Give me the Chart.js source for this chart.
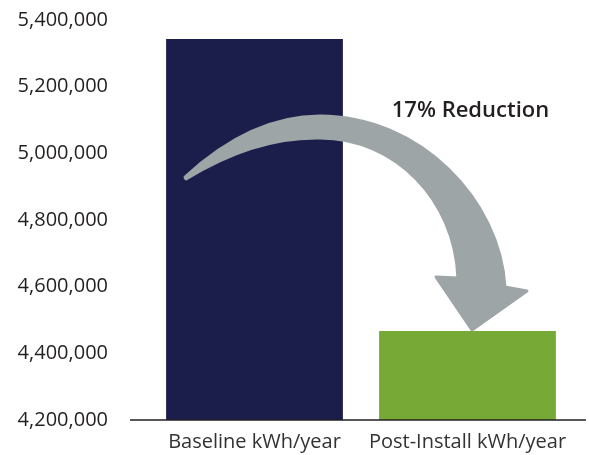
<!DOCTYPE html>
<html>
<head>
<meta charset="utf-8">
<script src="https://cdn.jsdelivr.net/npm/chart.js@4/dist/chart.umd.min.js"></script>
<style>
html,body{margin:0;padding:0;background:#fff;}
#wrap{width:589px;height:455px;position:relative;}
</style>
</head>
<body>
<div id="wrap"><canvas id="c" width="589" height="455"></canvas></div>
<script>
// Data
const categories = ["Baseline kWh/year", "Post-Install kWh/year"];
const energyValues = [5343000, 4467000];
const barColors = ["#1B1E4B", "#76A935"];
const yTicks = [4200000, 4400000, 4600000, 4800000, 5000000, 5200000, 5400000];
const annotationText = "17% Reduction";
// Arrow outline in (category position, value) space: category 0 = first bar, 1 = second bar
const arrowTail = [-0.326, 4929000];
const arrowOuter = [
  [[-0.138, 5040000], [0.073, 5112000], [0.307, 5112000]],
  [[0.777, 5112000], [1.153, 4860000], [1.176, 4599000]]
];
const arrowHead = [[1.279, 4587000], [1.021, 4470000], [0.852, 4629000], [0.955, 4626000]];
const arrowInner = [
  [[0.941, 4860000], [0.660, 5046000], [0.3075, 5046000]],
  [[0.073, 5049000], [-0.1385, 4995000], [-0.3216, 4923000]]
];
const labelPos = [1.014, 5127000];

const arrowPlugin = {
  id: 'arrow',
  afterDatasetsDraw(chart) {
    const ctx = chart.ctx, xs = chart.scales.x, ys = chart.scales.y;
    const x0 = xs.getPixelForValue(0), x1 = xs.getPixelForValue(1);
    const P = (p) => [x0 + (x1 - x0) * p[0], ys.getPixelForValue(p[1])];
    ctx.save();
    // baseline axis line
    const by = ys.getPixelForValue(yTicks[0]);
    ctx.strokeStyle = '#231F20';
    ctx.lineWidth = 1.3;
    ctx.beginPath();
    ctx.moveTo(chart.chartArea.left - 18, by);
    ctx.lineTo(chart.chartArea.right + 12, by);
    ctx.stroke();
    // arrow
    ctx.fillStyle = '#9EA5A6';
    ctx.strokeStyle = '#9EA5A6';
    ctx.lineWidth = 3;
    ctx.lineJoin = 'round';
    ctx.beginPath();
    let t = P(arrowTail);
    ctx.moveTo(t[0], t[1]);
    arrowOuter.forEach(seg => {
      const a = P(seg[0]), b = P(seg[1]), c = P(seg[2]);
      ctx.bezierCurveTo(a[0], a[1], b[0], b[1], c[0], c[1]);
    });
    arrowHead.forEach(p => { const q = P(p); ctx.lineTo(q[0], q[1]); });
    arrowInner.forEach(seg => {
      const a = P(seg[0]), b = P(seg[1]), c = P(seg[2]);
      ctx.bezierCurveTo(a[0], a[1], b[0], b[1], c[0], c[1]);
    });
    ctx.closePath();
    ctx.fill();
    ctx.stroke();
    // label
    const lp = P(labelPos);
    ctx.fillStyle = '#231F20';
    ctx.font = '600 22px "Open Sans"';
    ctx.textAlign = 'center';
    ctx.textBaseline = 'middle';
    ctx.fillText(annotationText, lp[0], lp[1]);
    ctx.restore();
  }
};

new Chart(document.getElementById('c'), {
  type: 'bar',
  data: {
    labels: categories,
    datasets: [{
      data: energyValues,
      backgroundColor: barColors,
      borderWidth: 0,
      barPercentage: 0.83,
      categoryPercentage: 1.0
    }]
  },
  options: {
    responsive: false,
    animation: false,
    devicePixelRatio: 1,
    layout: { padding: { top: 20, right: 15, left: 0, bottom: 0 } },
    plugins: { legend: { display: false }, tooltip: { enabled: false } },
    scales: {
      x: {
        grid: { display: false },
        border: { display: false },
        ticks: { color: '#333333', font: { family: 'Open Sans', size: 20 }, padding: 2 },
        afterFit(s) { s.height = 35; }
      },
      y: {
        min: 4200000,
        max: 5400000,
        afterBuildTicks(s) { s.ticks = yTicks.map(v => ({ value: v })); },
        grid: { display: true, drawOnChartArea: false, drawTicks: true, tickLength: 36, color: 'rgba(0,0,0,0)' },
        border: { display: false },
        ticks: {
          color: '#231F20',
          font: { family: 'Open Sans', size: 20 },
          padding: 4,
          callback: v => v.toLocaleString('en-US')
        },
        afterFit(s) { s.width = 148; }
      }
    }
  },
  plugins: [arrowPlugin]
});
</script>
</body>
</html>
